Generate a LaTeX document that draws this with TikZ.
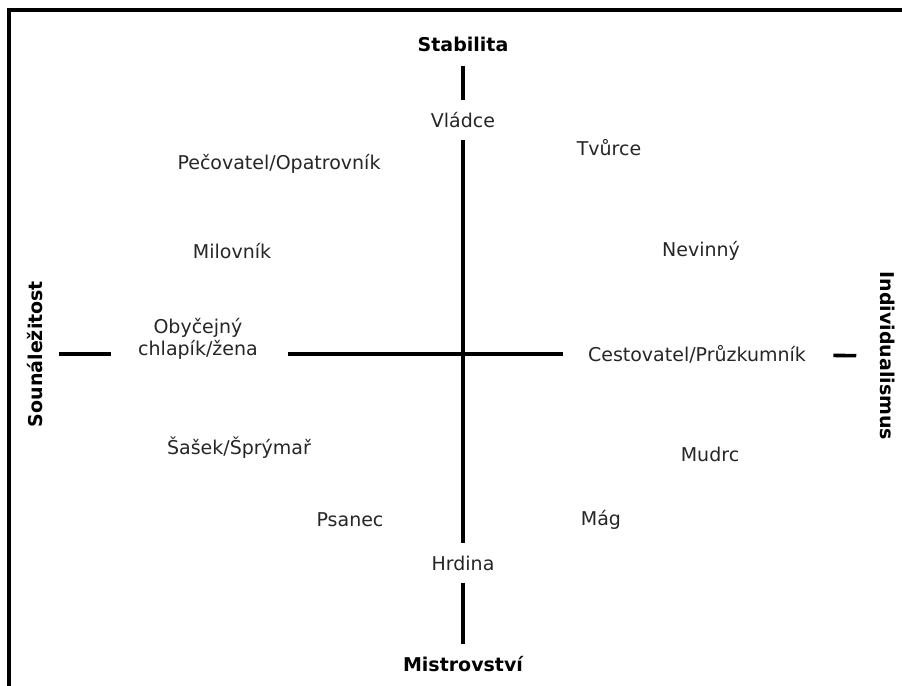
\documentclass[tikz,border=0pt]{standalone}
\usepackage{fontspec}
\setmainfont{DejaVu Sans}
\usetikzlibrary{positioning}

\begin{document}
\begin{tikzpicture}[
    x=0.5pt, y=-0.5pt,
    axis/.style={line width=1.8pt, shorten <=6pt, shorten >=6pt},
    pole/.style={inner sep=0pt, font=\fontsize{9.5}{11}\selectfont\bfseries},
    arch/.style={inner sep=0pt, text=black!85, align=center,
                 font=\fontsize{9.5}{11}\selectfont}
]
\useasboundingbox (0,0) rectangle (902,686);
\fill[white] (0,0) rectangle (902,686);
% frame, cut off on the right and at the bottom
\draw[line width=2pt] (9,700) -- (9,10) -- (910,10);

% poles
\node[pole] (stab) at (463,44) {Stabilita};
\node[pole] (mist) at (463,664) {Mistrovství};
\node[pole, rotate=90] (soun) at (35,354) {Sounáležitost};
\node[pole, rotate=-90] (indiv) at (888,356) {Individualismus};

% archetypes on the axes
\node[arch] (vladce) at (463,120) {Vládce};
\node[arch] (hrdina) at (463,563) {Hrdina};
\node[arch] (oby) at (198,339) {Obyčejný\\chlapík/žena};
\node[arch] (cest) at (697,354) {Cestovatel/Průzkumník};

% archetypes in the quadrants
\node[arch] (pecov) at (279,164) {Pečovatel/Opatrovník};
\node[arch] (tvurce) at (609,148) {Tvůrce};
\node[arch] (milov) at (232,251) {Milovník};
\node[arch] (nevin) at (701,251) {Nevinný};
\node[arch] (sasek) at (239,448) {Šašek/Šprýmař};
\node[arch] (mudrc) at (710,454) {Mudrc};
\node[arch] (psanec) at (350,520) {Psanec};
\node[arch] (mag) at (601,520) {Mág};

% vertical axis
\draw[axis, shorten <=7pt] (stab) -- (vladce);
\draw[axis] (vladce) -- (hrdina);
\draw[axis] (hrdina) -- (mist);

% horizontal axis
\draw[axis, shorten <=8pt, shorten >=13.5pt] (soun) -- (oby.west |- soun);
\draw[axis, shorten <=15pt, shorten >=12.5pt] (oby.east |- cest) -- (cest);
\draw[axis, shorten <=13.5pt, shorten >=12pt] (cest) -- (indiv);
\end{tikzpicture}
\end{document}
